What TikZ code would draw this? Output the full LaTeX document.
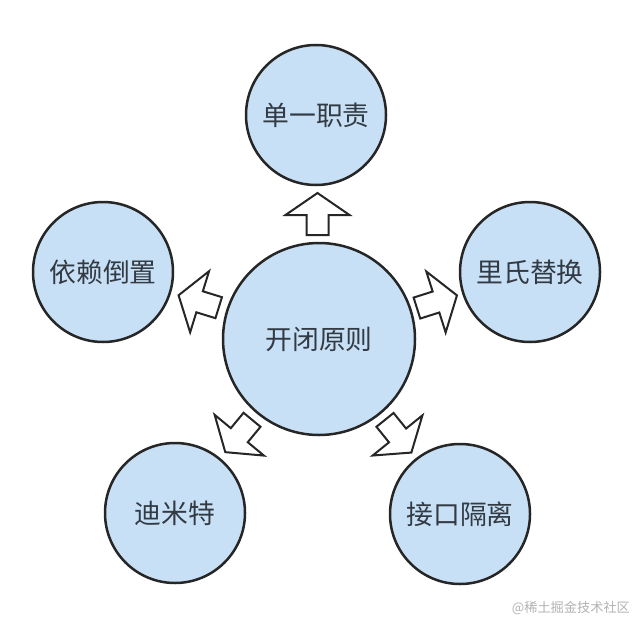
\documentclass[tikz,border=0pt]{standalone}
\usepackage{fontspec}
\newfontfamily\cjk{Noto Sans CJK SC}
\usetikzlibrary{calc}
\definecolor{bubble}{RGB}{200,224,245}
\definecolor{ink}{RGB}{50,58,68}
\tikzset{
  principle/.style={circle, draw=black!85, line width=1.25pt, fill=bubble, text=ink,
    font=\cjk\fontsize{13.4}{16}\selectfont, inner sep=0pt},
  outer/.style={principle, minimum size=70pt},
  core/.style={principle, minimum size=96pt},
  blockarrow/.pic={
    \draw[black!85, line width=1pt, fill=white, line join=miter]
      (-21,-11) -- (-1,-11) -- (-1,-32) -- (21,0) -- (-1,32) -- (-1,11) -- (-21,11) -- cycle;
  }
}
\begin{document}
\begin{tikzpicture}[x=0.5pt,y=-0.5pt]
  \useasboundingbox (0,0) rectangle (640,620);

	\node[core] (kaibi) at (319,339) {开闭原则};

	\node[outer] (danyi) at (316,115) {单一职责};
	\node[outer] (lishi) at (530,272) {里氏替换};
	\node[outer] (yilai) at (103,272) {依赖倒置};
	\node[outer] (dimite) at (175,513) {迪米特};
	\node[outer] (jiekou) at (460,514) {接口隔离};

	\foreach \n/\a [evaluate=\a as \b using \a+180] in
	    {danyi/90, lishi/17.6, yilai/162.8, dimite/230.4, jiekou/-51.1}
	  \pic[rotate=\a] at ($(kaibi.\a)!0.5!(\n.\b)$) {blockarrow};

	\node[font=\cjk\fontsize{6.6}{8}\selectfont, text=black!30, anchor=east] (mark)
	  at (637,608) {@稀土掘金技术社区};
\end{tikzpicture}
\end{document}
